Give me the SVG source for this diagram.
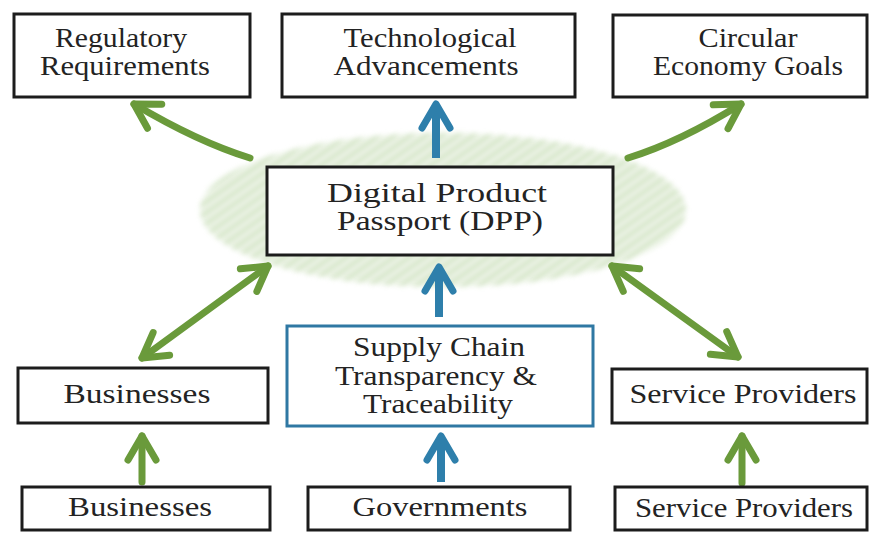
<svg xmlns="http://www.w3.org/2000/svg" width="870" height="533" viewBox="0 0 870 533">
  <style>
    .box { fill: #ffffff; stroke: #1c1c1c; stroke-width: 3; }
    .box-blue { fill: #ffffff; stroke: #2f78a3; stroke-width: 3; }
    .label { font-family: "Liberation Serif", "Times New Roman", serif; font-size: 27px; fill: #232323; text-anchor: middle; }
    .green { fill: none; stroke: #6a9a3b; stroke-width: 7; stroke-linecap: round; }
    .blue { fill: none; stroke: #2e7fab; stroke-width: 8; stroke-linecap: butt; }
  </style>
  <defs>
    <pattern id="hatch" patternUnits="userSpaceOnUse" width="9" height="9" patternTransform="rotate(-35)">
      <rect width="9" height="9" fill="#eef5e8"/>
      <line x1="0" y1="4.5" x2="9" y2="4.5" stroke="#cce0bc" stroke-width="4"/>
    </pattern>
    <filter id="soft" x="-10%" y="-20%" width="120%" height="140%">
      <feGaussianBlur stdDeviation="2.5"/>
    </filter>
    <marker id="headGreen" markerUnits="userSpaceOnUse" viewBox="-30 -20 36 40" refX="0" refY="0" markerWidth="36" markerHeight="40" orient="auto-start-reverse">
      <path d="M-24,-14 L0,0 L-24,14" fill="none" stroke="#6a9a3b" stroke-width="7" stroke-linecap="round" stroke-linejoin="round"/>
    </marker>
    <marker id="headBlue" markerUnits="userSpaceOnUse" viewBox="-30 -20 36 40" refX="0" refY="0" markerWidth="36" markerHeight="40" orient="auto">
      <path d="M-24,-14 L0,0 L-24,14" fill="none" stroke="#2e7fab" stroke-width="7" stroke-linecap="round" stroke-linejoin="round"/>
    </marker>
  </defs>

  <rect width="870" height="533" fill="#ffffff"/>

  <!-- hatched halo behind the passport -->
  <ellipse cx="443" cy="210" rx="243" ry="77" fill="url(#hatch)" filter="url(#soft)" opacity="0.9"/>

  <g id="connectors">
    <path class="green" d="M250,158 Q198,142 134,104" marker-end="url(#headGreen)"/>
    <path class="green" d="M628,158 Q680,142 741,104" marker-end="url(#headGreen)"/>
    <path class="green" d="M268,266 L142,358" marker-start="url(#headGreen)" marker-end="url(#headGreen)"/>
    <path class="green" d="M612,266 L738,357" marker-start="url(#headGreen)" marker-end="url(#headGreen)"/>
    <path class="green" d="M142,482 L142,436" marker-end="url(#headGreen)"/>
    <path class="green" d="M742,483 L742,436" marker-end="url(#headGreen)"/>
    <path class="blue" d="M436,158 L436,104" marker-end="url(#headBlue)"/>
    <path class="blue" d="M439,317 L439,267" marker-end="url(#headBlue)"/>
    <path class="blue" d="M441,482 L441,436" marker-end="url(#headBlue)"/>
  </g>

  <g id="regulatory">
    <rect class="box" x="14" y="14" width="236" height="83"/>
    <text class="label" x="121" y="47" textLength="132" lengthAdjust="spacingAndGlyphs">Regulatory</text>
    <text class="label" x="125" y="75" textLength="170" lengthAdjust="spacingAndGlyphs">Requirements</text>
  </g>

  <g id="technological">
    <rect class="box" x="282" y="14" width="293" height="83"/>
    <text class="label" x="430" y="47" textLength="173" lengthAdjust="spacingAndGlyphs">Technological</text>
    <text class="label" x="426" y="75" textLength="185" lengthAdjust="spacingAndGlyphs">Advancements</text>
  </g>

  <g id="circular">
    <rect class="box" x="613" y="15" width="254" height="82"/>
    <text class="label" x="748" y="47" textLength="99" lengthAdjust="spacingAndGlyphs">Circular</text>
    <text class="label" x="748" y="75" textLength="190" lengthAdjust="spacingAndGlyphs">Economy Goals</text>
  </g>

  <g id="dpp">
    <rect class="box" x="267" y="167" width="346" height="88"/>
    <text class="label" x="437" y="202" textLength="220" lengthAdjust="spacingAndGlyphs">Digital Product</text>
    <text class="label" x="440" y="230" textLength="206" lengthAdjust="spacingAndGlyphs">Passport (DPP)</text>
  </g>

  <g id="supply-chain">
    <rect class="box-blue" x="287" y="326" width="306" height="100"/>
    <text class="label" x="439" y="356" textLength="172" lengthAdjust="spacingAndGlyphs">Supply Chain</text>
    <text class="label" x="436" y="385" textLength="202" lengthAdjust="spacingAndGlyphs">Transparency &amp;</text>
    <text class="label" x="438" y="413" textLength="150" lengthAdjust="spacingAndGlyphs">Traceability</text>
  </g>

  <g id="businesses-mid">
    <rect class="box" x="18" y="368" width="250" height="55"/>
    <text class="label" x="137" y="403" textLength="147" lengthAdjust="spacingAndGlyphs">Businesses</text>
  </g>

  <g id="service-mid">
    <rect class="box" x="612" y="369" width="255" height="54"/>
    <text class="label" x="743" y="403" textLength="227" lengthAdjust="spacingAndGlyphs">Service Providers</text>
  </g>

  <g id="businesses-base">
    <rect class="box" x="22" y="487" width="248" height="43"/>
    <text class="label" x="140" y="516" textLength="144" lengthAdjust="spacingAndGlyphs">Businesses</text>
  </g>

  <g id="governments">
    <rect class="box" x="308" y="487" width="262" height="43"/>
    <text class="label" x="440" y="516" textLength="175" lengthAdjust="spacingAndGlyphs">Governments</text>
  </g>

  <g id="service-base">
    <rect class="box" x="615" y="487" width="252" height="43"/>
    <text class="label" x="744" y="517" textLength="218" lengthAdjust="spacingAndGlyphs">Service Providers</text>
  </g>
</svg>
